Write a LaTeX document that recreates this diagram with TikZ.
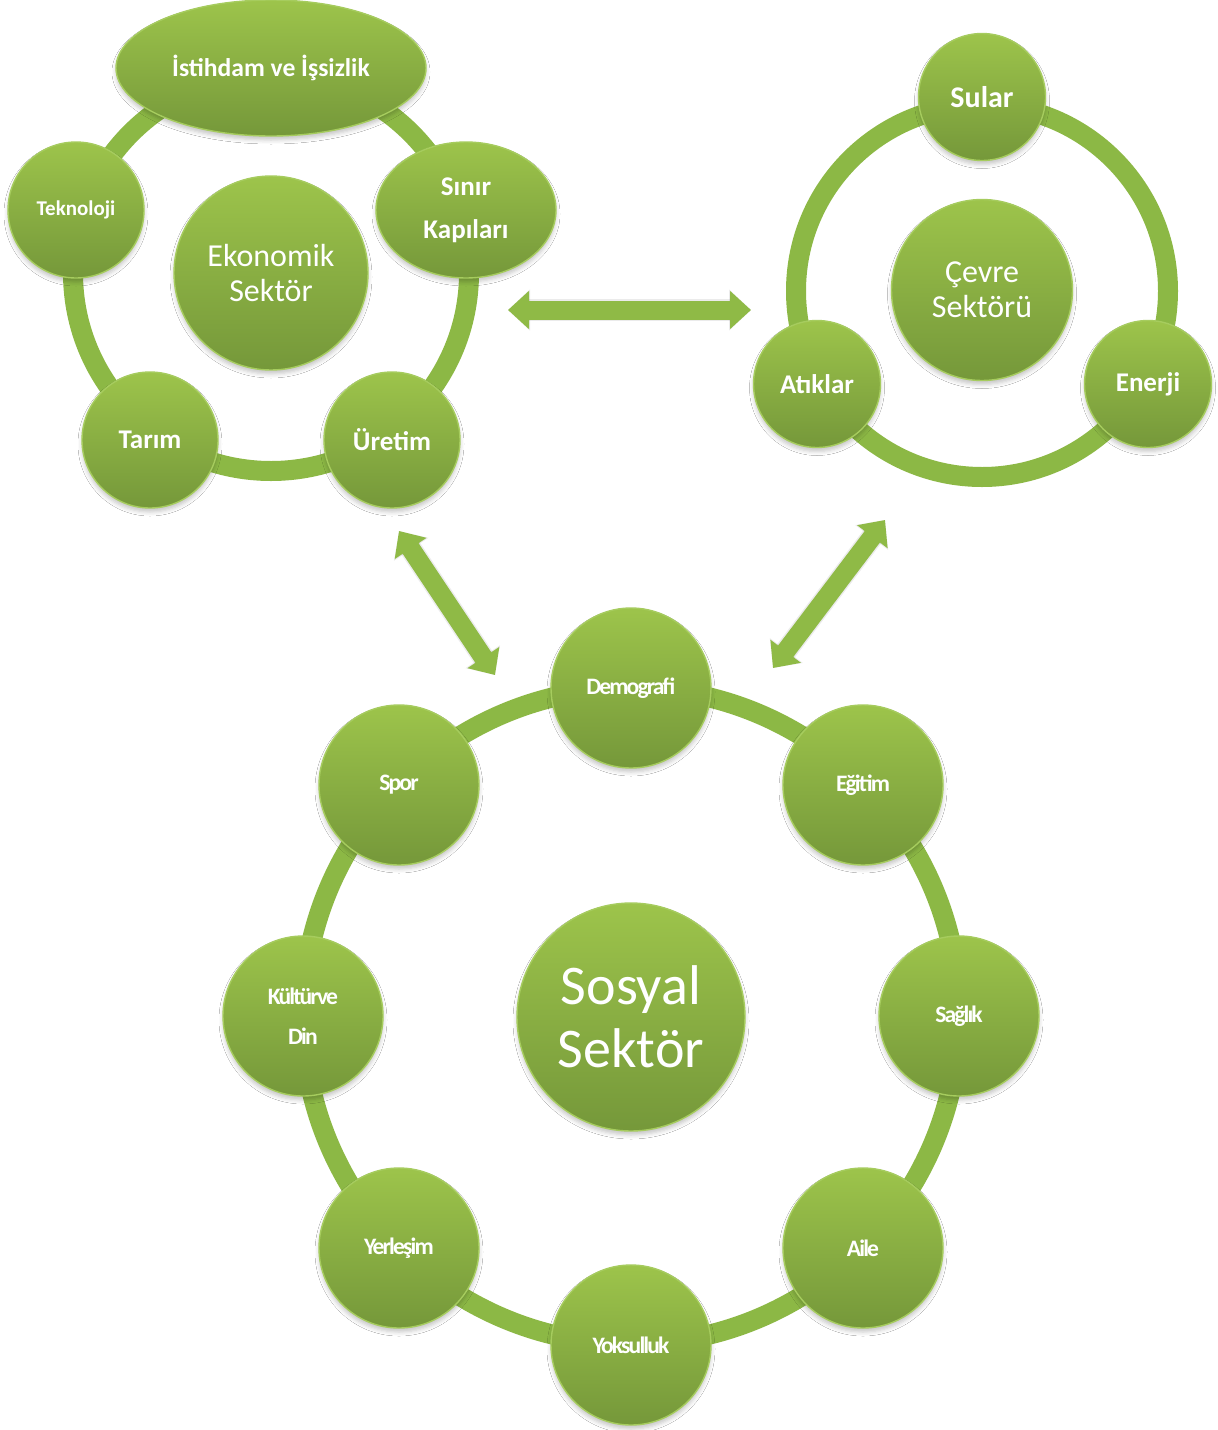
\documentclass[tikz,border=0pt]{standalone}
\usepackage{fontspec}
\setmainfont{Carlito}
\newfontfamily\socfont[LetterSpace=-8]{Carlito}
\usetikzlibrary{arrows.meta,shadows.blur,shapes.geometric}
\definecolor{gtop}{HTML}{9DC44B}
\definecolor{gbot}{HTML}{75983A}
\definecolor{gring}{HTML}{8CB845}
\definecolor{gedge}{HTML}{A6CC5E}
\definecolor{garrow}{HTML}{8FBA46}
\begin{document}
\begin{tikzpicture}[x=0.5pt,y=-0.5pt,
  ball/.style={circle, top color=gtop, bottom color=gbot, draw=gedge, line width=0.7pt,
    text=white, align=center, inner sep=0pt,
    blur shadow={shadow xshift=0pt, shadow yshift=-2pt, shadow blur radius=2pt, shadow opacity=22}},
  oval/.style={ball, ellipse},
  ringline/.style={draw=gring, line width=10pt},
  link/.style={draw=garrow, line width=9.5pt,
    {Triangle[width=18.5pt,length=10.5pt]}-{Triangle[width=18.5pt,length=10.5pt]}},
  linkshadow/.style={draw=black, opacity=0.08, line width=11pt, yshift=-2.5pt,
    {Triangle[width=20pt,length=11pt]}-{Triangle[width=20pt,length=11pt]}},
  bigtxt/.style={font=\fontsize{16}{17.5}\selectfont},
  midtxt/.style={font=\bfseries\fontsize{13.5}{16}\selectfont},
  soctxt/.style={font=\socfont\bfseries\fontsize{11.8}{20}\selectfont}
]
\useasboundingbox (0,0) rectangle (1217,1430);
\fill[white] (0,0) rectangle (1217,1430);

% ring centres
\coordinate (ec) at (271,273);
\coordinate (cc) at (982,291);
\coordinate (sc) at (631,1016);

% rings
\draw[ringline] (ec) circle[radius=99pt];
\draw[ringline] (cc) circle[radius=93pt];
\draw[ringline] (sc) circle[radius=164pt];

% ---------------- Ekonomik cluster
\node[ball, minimum size=97pt, bigtxt] (eko) at (271,273) {Ekonomik\\Sektör};
\node[oval, minimum width=155pt, minimum height=68pt,
      font=\bfseries\fontsize{12.8}{15}\selectfont] (ist) at (271,68) {İstihdam ve İşsizlik};
\node[ball, minimum size=68pt, font=\bfseries\fontsize{10.5}{12}\selectfont] (tek) at (76,210) {Teknoloji};
\node[oval, minimum width=90pt, minimum height=68pt,
      font=\bfseries\fontsize{13.5}{21.5}\selectfont] (sin) at (466,210) {Sınır\\Kapıları};
\node[ball, minimum size=68pt, midtxt] (tar) at (150,440) {Tarım};
\node[ball, minimum size=68pt, midtxt] (ure) at (392,440) {Üretim};

% ---------------- Çevre cluster
\node[ball, minimum size=90.5pt, bigtxt] (cev) at (982,290) {Çevre\\Sektörü};
\node[ball, minimum size=63.5pt, font=\bfseries\fontsize{15}{18}\selectfont] (sul) at (982,97) {Sular};
\node[ball, minimum size=63.5pt, midtxt] (atk) at (817,384) {Atıklar};
\node[ball, minimum size=63.5pt, midtxt] (ene) at (1148,384) {Enerji};

% ---------------- Sosyal cluster
\node[ball, minimum size=114pt, font=\fontsize{28}{31.5}\selectfont] (sos) at (631,1017) {Sosyal\\Sektör};
\node[ball, minimum size=80pt, soctxt] (dem) at (631,688) {Demografi};
\node[ball, minimum size=80pt, soctxt] (egi) at (863,785) {Eğitim};
\node[ball, minimum size=80pt, soctxt] (sag) at (959,1016) {Sağlık};
\node[ball, minimum size=80pt, soctxt] (ail) at (863,1248) {Aile};
\node[ball, minimum size=80pt, soctxt] (yok) at (631,1345) {Yoksulluk};
\node[ball, minimum size=80pt, soctxt] (yer) at (399,1248) {Yerleşim};
\node[ball, minimum size=80pt, soctxt] (kul) at (303,1016) {Kültürve\\Din};
\node[ball, minimum size=80pt, soctxt] (spo) at (399,785) {Spor};

% ---------------- connecting arrows
\coordinate (h1) at (508,310);
\coordinate (h2) at (751,310);
\coordinate (l1) at (399,531);
\coordinate (l2) at (495,675);
\coordinate (r1) at (885,520);
\coordinate (r2) at (773,668);
\draw[linkshadow] (h1) -- (h2);
\draw[linkshadow] (l1) -- (l2);
\draw[linkshadow] (r1) -- (r2);
\draw[link] (h1) -- (h2);
\draw[link] (l1) -- (l2);
\draw[link] (r1) -- (r2);
\end{tikzpicture}
\end{document}
